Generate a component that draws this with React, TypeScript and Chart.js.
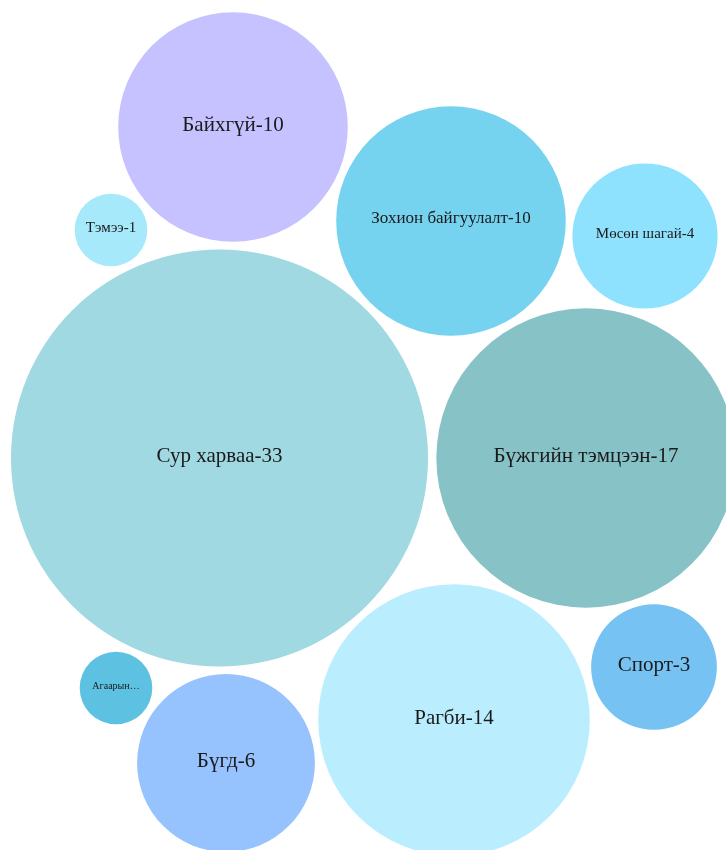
import React, { useEffect, useRef } from "react";
import { Chart, registerables } from "chart.js";

Chart.register(...registerables);

const categories = [
  "Байхгүй",
  "Тэмээ",
  "Зохион байгуулалт",
  "Мөсөн шагай",
  "Сур харваа",
  "Бүжгийн тэмцээн",
  "Спорт",
  "Агаарын…",
  "Бүгд",
  "Рагби",
];
const values = [10, 1, 10, 4, 33, 17, 3, 1, 6, 14];
const showValue = [true, true, true, true, true, true, true, false, true, true];
// packed-layout centres (in the layout's own units)
const posX = [233, 111, 451, 645, 219.5, 586, 654, 116, 226, 454];
const posY = [127, 230, 221, 236, 458, 458, 667, 688, 763, 720];
const colors = [
  "#c6c1ff",
  "#a5e9fb",
  "#75d3ef",
  "#8fe2fd",
  "#a0d9e2",
  "#87c2c7",
  "#75c2f3",
  "#5dc2e1",
  "#96c2fe",
  "#baeeff",
];

const SCALE = 36.3;

const labelPlugin = {
  id: "bubbleLabels",
  afterDatasetsDraw(chart: any) {
    const ctx = chart.ctx;
    const meta = chart.getDatasetMeta(0);
    ctx.save();
    ctx.textAlign = "center";
    ctx.textBaseline = "middle";
    ctx.fillStyle = "#1a1a1a";
    meta.data.forEach((el: any, i: number) => {
      const text = showValue[i] ? `${categories[i]}-${values[i]}` : categories[i];
      const r = SCALE * Math.sqrt(values[i]);
      ctx.font = `21px "Liberation Serif", "Times New Roman", serif`;
      const w = ctx.measureText(text).width;
      const fit = (21 * 0.7 * 2 * r) / w;
      const size = Math.min(21, Math.floor(fit));
      ctx.font = `${size}px "Liberation Serif", "Times New Roman", serif`;
      ctx.fillText(text, el.x, el.y - 2);
    });
    ctx.restore();
  },
};

export default function App() {
  const ref = useRef<HTMLCanvasElement>(null);
  useEffect(() => {
    document.body.style.margin = "0";
    const chart = new Chart(ref.current!, {
      type: "bubble",
      data: {
        datasets: [
          {
            data: values.map((v, i) => ({ x: posX[i], y: posY[i], r: SCALE * Math.sqrt(v) })),
            backgroundColor: colors,
            hoverBackgroundColor: colors,
            borderWidth: 0,
            hoverBorderWidth: 0,
            hoverRadius: 0,
          } as any,
        ],
      },
      options: {
        animation: false,
        responsive: false,
        maintainAspectRatio: false,
        events: [],
        layout: { padding: 0, autoPadding: false },
        clip: false as any,
        scales: {
          x: { type: "linear", min: 0, max: 726, display: false, offset: false },
          y: { type: "linear", min: 0, max: 850, reverse: true, display: false, offset: false },
        },
        plugins: {
          legend: { display: false },
          tooltip: { enabled: false },
        },
      },
      plugins: [labelPlugin],
    });
    return () => chart.destroy();
  }, []);
  return (
    <div style={{ width: 726, height: 850, overflow: "hidden", background: "#fff" }}>
      <canvas ref={ref} width={726} height={850} style={{ display: "block" }} />
    </div>
  );
}
